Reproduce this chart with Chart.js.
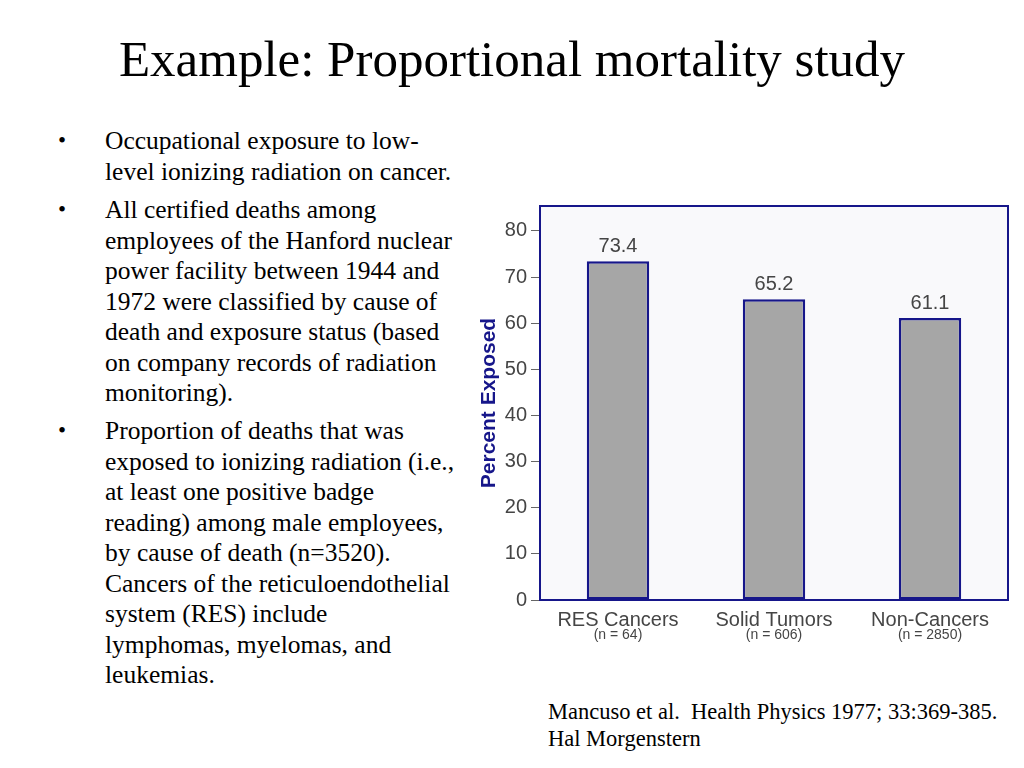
<!DOCTYPE html>
<html>
<head>
<meta charset="utf-8">
<script src="https://cdn.jsdelivr.net/npm/chart.js@4/dist/chart.umd.min.js"></script>
<style>
  html, body { margin: 0; padding: 0; background: #fff; }
  body { width: 1024px; height: 768px; position: relative; overflow: hidden; font-family: "Liberation Serif", "Times New Roman", serif; color: #000; }
  h1 { position: absolute; left: 0; width: 1024px; top: 29px; margin: 0; text-align: center; font-weight: normal; font-size: 51px; line-height: 60px; }
  .bullet { position: absolute; left: 58px; font-size: 25.5px; line-height: 30.5px; }
  .bullet .dot { position: absolute; left: 0; top: 0; font-size: 23px; }
  .bullet .txt { position: absolute; left: 47px; top: 0; white-space: nowrap; }
  .cite { position: absolute; left: 548px; top: 698px; font-size: 22.5px; line-height: 27px; white-space: nowrap; }
  #chartBox { position: absolute; left: 470px; top: 190px; width: 548px; height: 460px; }
</style>
</head>
<body>
<h1>Example: Proportional mortality study</h1>

<div class="bullet" style="top:126px"><span class="dot">•</span><span class="txt">Occupational exposure to low-<br>level ionizing radiation on cancer.</span></div>
<div class="bullet" style="top:195px"><span class="dot">•</span><span class="txt">All certified deaths among<br>employees of the Hanford nuclear<br>power facility between 1944 and<br>1972 were classified by cause of<br>death and exposure status (based<br>on company records of radiation<br>monitoring).</span></div>
<div class="bullet" style="top:416px"><span class="dot">•</span><span class="txt">Proportion of deaths that was<br>exposed to ionizing radiation (i.e.,<br>at least one positive badge<br>reading) among male employees,<br>by cause of death (n=3520).<br>Cancers of the reticuloendothelial<br>system (RES) include<br>lymphomas, myelomas, and<br>leukemias.</span></div>

<div id="chartBox"><canvas id="chart" width="548" height="460"></canvas></div>

<div class="cite">Mancuso et al.&nbsp; Health Physics 1977; 33:369-385.<br>Hal Morgenstern</div>

<script>
// Datos del gráfico
const categories = ["RES Cancers", "Solid Tumors", "Non-Cancers"];
const caseCounts = ["(n = 64)", "(n = 606)", "(n = 2850)"];
const percentExposed = [73.4, 65.2, 61.1];
const yTicks = [0, 10, 20, 30, 40, 50, 60, 70, 80];

const navy = "#16168a";
const textGrey = "#454545";

// Fondo y marco del área del gráfico
const framePlugin = {
  id: "frame",
  beforeDraw(chart) {
    const { ctx, chartArea: a } = chart;
    ctx.save();
    ctx.fillStyle = "#f9f9fb";
    ctx.fillRect(a.left, a.top, a.right - a.left, a.bottom - a.top);
    ctx.restore();
  },
  afterDraw(chart) {
    const { ctx, chartArea: a } = chart;
    ctx.save();
    ctx.strokeStyle = navy;
    ctx.lineWidth = 2;
    ctx.strokeRect(a.left, a.top, a.right - a.left, a.bottom - a.top);
    ctx.restore();
  },
};

// Valores encima de las barras y "(n = ...)" bajo las categorías
const labelsPlugin = {
  id: "labels",
  afterDatasetsDraw(chart) {
    const { ctx } = chart;
    const meta = chart.getDatasetMeta(0);
    ctx.save();
    ctx.fillStyle = textGrey;
    ctx.textAlign = "center";
    ctx.textBaseline = "alphabetic";
    ctx.font = "20px 'Liberation Sans', Arial, sans-serif";
    meta.data.forEach((bar, i) => {
      ctx.fillText(percentExposed[i].toFixed(1), bar.x, bar.y - 9);
    });
    ctx.font = "14px 'Liberation Sans', Arial, sans-serif";
    ctx.textBaseline = "middle";
    const xScale = chart.scales.x;
    caseCounts.forEach((txt, i) => {
      ctx.fillText(txt, xScale.getPixelForValue(i), chart.chartArea.bottom + 35);
    });
    ctx.restore();
  },
};

const ctx = document.getElementById("chart").getContext("2d");
new Chart(ctx, {
  type: "bar",
  data: {
    labels: categories,
    datasets: [
      {
        data: percentExposed,
        backgroundColor: "#a6a6a6",
        borderColor: navy,
        borderWidth: 2.5,
        borderSkipped: false,
        categoryPercentage: 1,
        barPercentage: 0.4,
      },
    ],
  },
  options: {
    responsive: false,
    animation: false,
    layout: { padding: { top: 10, right: 10, left: 0, bottom: 0 } },
    plugins: { legend: { display: false }, tooltip: { enabled: false } },
    scales: {
      x: {
        grid: { display: false },
        border: { display: false },
        ticks: {
          color: textGrey,
          font: { family: "'Liberation Sans', Arial, sans-serif", size: 20 },
          padding: 0,
          maxRotation: 0,
        },
        afterFit: (scale) => { scale.height = 50; },
      },
      y: {
        min: 0,
        max: 85.4,
        afterBuildTicks: (scale) => { scale.ticks = yTicks.map((v) => ({ value: v })); },
        grid: { drawOnChartArea: false, drawTicks: true, tickLength: 9, color: "#666" },
        border: { display: false },
        ticks: {
          color: textGrey,
          font: { family: "'Liberation Sans', Arial, sans-serif", size: 20 },
          padding: 4,
        },
        title: {
          display: true,
          text: "Percent Exposed",
          color: navy,
          font: { family: "'Liberation Sans', Arial, sans-serif", size: 21, weight: "bold" },
          padding: { top: 7, bottom: 0 },
        },
        afterFit: (scale) => { scale.width = 70; },
      },
    },
  },
  plugins: [framePlugin, labelsPlugin],
});
</script>
</body>
</html>
